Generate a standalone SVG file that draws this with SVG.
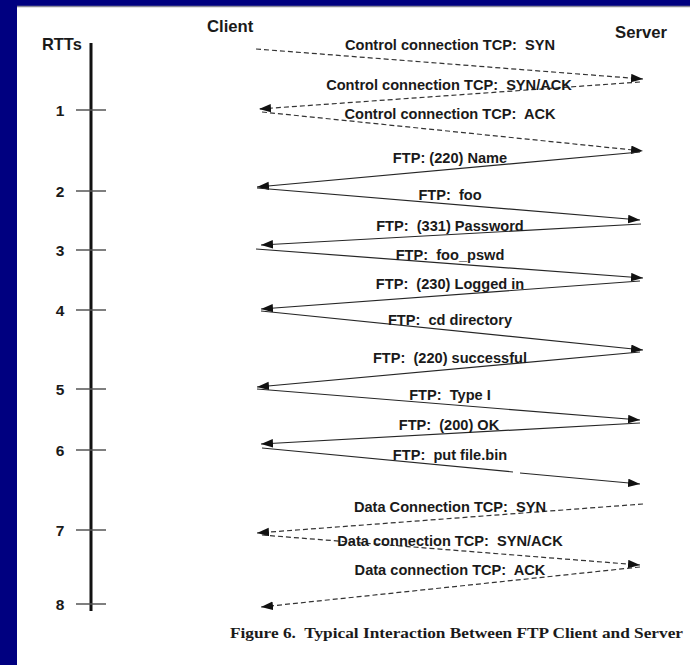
<svg xmlns="http://www.w3.org/2000/svg" width="690" height="665" viewBox="0 0 690 665">
<style>
  .lbl { font-family: "Liberation Sans", Arial, sans-serif; font-weight: bold; font-size: 16.7px; fill: #1a1a1a; white-space: pre; }
  .msg { font-family: "Liberation Sans", Arial, sans-serif; font-weight: bold; font-size: 14.6px; fill: #1a1a1a; text-anchor: middle; white-space: pre; }
  .num { font-family: "Liberation Sans", Arial, sans-serif; font-weight: bold; font-size: 15.5px; fill: #1a1a1a; text-anchor: middle; }
  .cap { font-family: "Liberation Serif", "Times New Roman", serif; font-weight: bold; font-size: 15px; fill: #1a1a1a; white-space: pre; }
  .solid { fill: none; stroke: #262626; stroke-width: 1.2; marker-end: url(#ah); }
  .dash { fill: none; stroke: #333; stroke-width: 1.2; stroke-dasharray: 5 3; marker-end: url(#ah); }
  .tick { stroke: #555; stroke-width: 1.5; }
</style>
<defs>
  <marker id="ah" markerUnits="userSpaceOnUse" markerWidth="13" markerHeight="9" refX="12" refY="4.25" orient="auto">
    <path d="M0,0 L12,4.25 L0,8.5 z" fill="#111"/>
  </marker>
</defs>
<rect x="0" y="0" width="690" height="665" fill="#000080"/>
<rect x="17" y="6" width="673" height="659" fill="#ffffff"/>
<line x1="17" y1="6.5" x2="690" y2="6.5" stroke="#8a8a9a" stroke-width="1.5"/>

<g id="rtt-axis">
  <text class="lbl" x="42" y="50" style="font-size:16.4px">RTTs</text>
  <line x1="91" y1="43" x2="91" y2="611" stroke="#111" stroke-width="3"/>
  <line class="tick" x1="76" y1="110" x2="106" y2="110"/>
  <line class="tick" x1="76" y1="191" x2="106" y2="191"/>
  <line class="tick" x1="76" y1="250" x2="106" y2="250"/>
  <line class="tick" x1="76" y1="310" x2="106" y2="310"/>
  <line class="tick" x1="76" y1="389" x2="106" y2="389"/>
  <line class="tick" x1="76" y1="450" x2="106" y2="450"/>
  <line class="tick" x1="76" y1="530" x2="106" y2="530"/>
  <line class="tick" x1="76" y1="604" x2="106" y2="604"/>
  <text class="num" x="60" y="116">1</text>
  <text class="num" x="60" y="197">2</text>
  <text class="num" x="60" y="256">3</text>
  <text class="num" x="60" y="316">4</text>
  <text class="num" x="60" y="395">5</text>
  <text class="num" x="60" y="456">6</text>
  <text class="num" x="60" y="536">7</text>
  <text class="num" x="60" y="610">8</text>
</g>

<g id="client"><text class="lbl" x="207" y="32">Client</text></g>
<g id="server"><text class="lbl" x="615" y="38">Server</text></g>

<g id="connectors">
  <path class="dash" d="M256,49 L643,79"/>
  <path class="dash" d="M640,82 L259,109"/>
  <path class="dash" d="M262,112 L643,151"/>
  <path class="solid" d="M640,152 L257,187"/>
  <path class="solid" d="M257,188 L640,220"/>
  <path class="solid" d="M641,224 L261,245"/>
  <path class="solid" d="M256,249 L643,278"/>
  <path class="solid" d="M640,281 L261,309"/>
  <path class="solid" d="M261,311 L643,350"/>
  <path class="solid" d="M640,352 L257,387"/>
  <path class="solid" d="M257,389 L640,420"/>
  <path class="solid" d="M640,423 L261,444"/>
  <path class="solid" d="M262,448 L513,472 M520,473 L640,484"/>
  <path class="dash" d="M643,504 L257,533"/>
  <path class="dash" d="M262,535 L640,565"/>
  <path class="dash" d="M640,567 L261,607"/>
</g>

<g id="labels">
  <text class="msg" x="450" y="50">Control connection TCP:  SYN</text>
  <text class="msg" x="449" y="90">Control connection TCP:  SYN/ACK</text>
  <text class="msg" x="450" y="119">Control connection TCP:  ACK</text>
  <text class="msg" x="450" y="163">FTP: (220) Name</text>
  <text class="msg" x="450" y="200">FTP:  foo</text>
  <text class="msg" x="450" y="231">FTP:  (331) Password</text>
  <text class="msg" x="450" y="260">FTP:  foo_pswd</text>
  <text class="msg" x="450" y="289">FTP:  (230) Logged in</text>
  <text class="msg" x="450" y="325">FTP:  cd directory</text>
  <text class="msg" x="450" y="363">FTP:  (220) successful</text>
  <text class="msg" x="450" y="400">FTP:  Type I</text>
  <text class="msg" x="449" y="430">FTP:  (200) OK</text>
  <text class="msg" x="450" y="460">FTP:  put file.bin</text>
  <text class="msg" x="450" y="512">Data Connection TCP:  SYN</text>
  <text class="msg" x="450" y="546">Data connection TCP:  SYN/ACK</text>
  <text class="msg" x="450" y="575">Data connection TCP:  ACK</text>
</g>

<g id="caption">
  <text class="cap" x="230" y="638" textLength="453" lengthAdjust="spacingAndGlyphs">Figure 6.  Typical Interaction Between FTP Client and Server</text>
</g>
</svg>
